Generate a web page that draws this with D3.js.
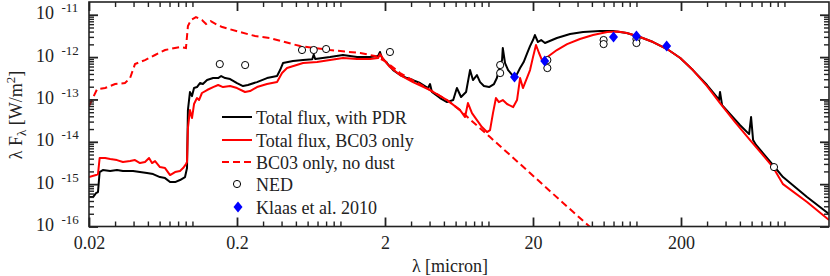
<!DOCTYPE html>
<html>
<head>
<meta charset="utf-8">
<script src="https://cdn.jsdelivr.net/npm/d3@7"></script>
</head>
<body style="margin:0; background:#fff;">
<div id="chart"></div>
<script>
/* wavelength [micron], lambda*F_lambda [W/m^2] */
var pdrTotal = [
  [0.02,4.96e-16],[0.0213,4.96e-16],[0.0223,6.16e-16],[0.0230,6.52e-16],[0.0236,1.93e-15],[0.0248,2.15e-15],
  [0.0278,2.04e-15],[0.0309,2.15e-15],[0.0339,2.04e-15],[0.0397,2.04e-15],[0.0442,1.93e-15],[0.0493,1.83e-15],
  [0.0542,1.73e-15],[0.0603,1.47e-15],[0.0653,1.39e-15],[0.0706,1.12e-15],[0.0763,1.12e-15],[0.0824,1.25e-15],
  [0.0891,1.47e-15],[0.0919,2.4e-15],[0.0932,5.6e-14],[0.0962,1.5e-13],[0.0993,1.2e-13],[0.1025,1.86e-13],
  [0.1073,1.96e-13],[0.1124,2.44e-13],[0.1176,2.31e-13],[0.1255,2.87e-13],[0.1379,3.2e-13],[0.1492,3.2e-13],
  [0.1563,3.57e-13],[0.1665,3.2e-13],[0.1797,3.03e-13],[0.2,2.44e-13],[0.2196,2.07e-13],[0.237,2.19e-13],
  [0.273,2.57e-13],[0.319,3.2e-13],[0.373,3.57e-13],[0.391,4.94e-13],[0.409,7.23e-13],[0.478,8.07e-13],
  [0.559,8.5e-13],[0.645,8.9e-13],[0.66,1.15e-12],[0.675,9.0e-13],[0.85,1.0e-12],[1.04,1.12e-12],
  [1.295,1.0e-12],[1.586,1.0e-12],[1.797,1.06e-12],[1.85,1.32e-12],[1.91,9.5e-13],[2.063,7.23e-13],
  [2.27,4.94e-13],[2.53,3.77e-13],[2.82,3.2e-13],[3.09,2.87e-13],[3.45,2.44e-13],[3.91,1.86e-13],
  [4.03,2.31e-13],[4.15,1.5e-13],[4.71,1.08e-13],[5.25,8.66e-14],[5.78,9.68e-14],[6.12,1.86e-13],
  [6.53,1.14e-13],[7.06,1.5e-13],[7.51,4.94e-13],[7.86,2.87e-13],[8.36,3.77e-13],[8.78,2.57e-13],
  [9.32,2.07e-13],[10.1,1.96e-13],[10.9,2.31e-13],[11.4,3.2e-13],[11.98,6.49e-13],[12.36,8.5e-13],
  [12.5,1.64e-12],[12.95,7.23e-13],[13.58,4.94e-13],[14.7,3.57e-13],[15.6,3.97e-13],[16.36,5.51e-13],
  [17.3,7.64e-13],[18.3,1.25e-12],[19.1,1.82e-12],[20,2.53e-12],[20.6,3.32e-12],[21.6,2.27e-12],
  [22.7,2.53e-12],[24.1,2.15e-12],[29.0,2.82e-12],[35.6,3.5e-12],[43.6,3.9e-12],[56.7,4.12e-12],
  [69.5,4.12e-12],[86.0,3.7e-12],[105.6,2.98e-12],[129.5,2.27e-12],[161,1.55e-12],[197.7,9.5e-13],
  [240.6,4.94e-13],[299.8,2.19e-13],[350,1.14e-13],[361,9.68e-14],[367,1.5e-13],[379,7.37e-14],
  [500,2.49e-14],[577,1.52e-14],[595,3.84e-14],[614,1.1e-14],[643,8.4e-15],[836,2.83e-15],
  [978,1.47e-15],[1421,4.96e-16],[2000,1.97e-16]
];

var bc03Total = [
  [0.02,1.47e-15],[0.0223,1.64e-15],[0.0230,1.73e-15],[0.0236,4.13e-15],[0.0257,4.13e-15],[0.0278,3.92e-15],
  [0.0309,3.7e-15],[0.0339,3.33e-15],[0.0379,3.51e-15],[0.0409,3.7e-15],[0.0442,3.15e-15],[0.0478,3.33e-15],
  [0.0509,4.13e-15],[0.0533,3.15e-15],[0.0559,3.51e-15],[0.0603,2.53e-15],[0.0653,2.4e-15],[0.0706,1.64e-15],
  [0.0763,1.93e-15],[0.0824,2.04e-15],[0.0865,2.4e-15],[0.0904,2.98e-15],[0.0919,3.33e-15],[0.0932,2.11e-14],
  [0.0962,5.6e-14],[0.0993,3.64e-14],[0.1025,7.8e-14],[0.1073,1.08e-13],[0.1108,9.68e-14],[0.1159,1.42e-13],
  [0.1255,1.67e-13],[0.1379,1.96e-13],[0.1492,2.19e-13],[0.161,1.96e-13],[0.1797,2.07e-13],[0.2,1.86e-13],
  [0.2266,1.5e-13],[0.245,1.58e-13],[0.273,1.96e-13],[0.319,2.31e-13],[0.373,2.57e-13],[0.403,4.2e-13],
  [0.4355,5.51e-13],[0.559,7.23e-13],[0.695,7.64e-13],[0.85,8.5e-13],[1.04,9.5e-13],[1.295,9.0e-13],
  [1.586,9.0e-13],[1.797,9.5e-13],[1.85,1.18e-12],[1.97,8.5e-13],[2.16,5.82e-13],[2.53,3.77e-13],
  [3.09,2.57e-13],[4.03,1.67e-13],[5.25,9.68e-14],[6.43,5.6e-14],[6.95,3.84e-14],[7.27,8.23e-14],
  [7.74,4.76e-14],[8.36,3.26e-14],[9.04,2.23e-14],[9.78,1.7e-14],[10.25,1.89e-14],[10.73,4.76e-14],
  [11.24,1.08e-13],[11.76,8.66e-14],[12.5,9.68e-14],[13.35,7.8e-14],[14.7,6.6e-14],[15.6,9.68e-14],
  [16.36,3.2e-13],[17.1,1.86e-13],[18.3,3.38e-13],[19.1,4.94e-13],[20,1.0e-12],[20.95,1.93e-12],
  [21.96,1.25e-12],[23.0,8.5e-13],[24.5,9.5e-13],[29.0,1.47e-12],[34.0,2.03e-12],[41.5,2.67e-12],
  [50.9,3.32e-12],[63.5,3.9e-12],[74.6,4.0e-12],[86.0,3.7e-12],[105.6,2.98e-12],[129.5,2.27e-12],
  [161,1.55e-12],[197.7,9.5e-13],[240.6,4.94e-13],[299.8,2.07e-13],[367,8.23e-14],[464,2.93e-14],
  [586,1.1e-14],[706,5.13e-15],[836,2.53e-15],[978,1.0e-15],[1421,3.78e-16],[2000,1.42e-16]
];

var bc03NoDust = [
  [0.02,7.0e-14],[0.0227,1.76e-13],[0.0257,1.86e-13],[0.030,2.31e-13],[0.035,2.44e-13],[0.0379,3.2e-13],
  [0.0409,6.85e-13],[0.0478,8.5e-13],[0.0559,1.12e-12],[0.0653,1.47e-12],[0.0824,1.73e-12],[0.0904,1.64e-12],
  [0.0932,5.4e-12],[0.0978,7.5e-12],[0.1056,8.8e-12],[0.116,7.5e-12],[0.1236,6.03e-12],[0.133,7.1e-12],
  [0.144,6.03e-12],[0.159,5.12e-12],[0.21,3.9e-12],[0.265,3.14e-12],[0.334,2.82e-12],[0.533,1.82e-12],
  [0.85,1.47e-12],[1.36,1.25e-12],[1.71,1.06e-12],[2.0,8.07e-13],[2.53,4.2e-13],[4.03,1.67e-13],
  [5.25,9.68e-14],[6.43,5.6e-14],[7.86,2.93e-14],[10.25,1.29e-14],[14.0,4.87e-15],[19.1,1.83e-15],
  [30.4,4.2e-16],[48.6,9.7e-17],[56.7,5.95e-17]
];

var nedPoints = [
  [0.153,6.85e-13],[0.227,6.49e-13],[0.55,1.47e-12],[0.66,1.47e-12],[0.80,1.55e-12],[2.16,1.32e-12],
  [12,6.49e-13],[12,4.2e-13],[25,8.5e-13],[25,5.51e-13],[60,2.53e-12],[60,2.03e-12],
  [100,2.67e-12],[100,2.15e-12],[850,2.53e-15]
];

var klaasPoints = [
  [15,3.38e-13],[24,8.07e-13],[70,2.98e-12],[100,3.14e-12],[160,1.82e-12]
];

var xTickValues = [0.02, 0.2, 2, 20, 200];
var xTickLabels = ["0.02", "0.2", "2", "20", "200"];
var yTickExponents = [-16, -15, -14, -13, -12, -11];
var legendLabels = ["Total flux, with PDR", "Total flux, BC03 only", "BC03 only, no dust", "NED", "Klaas et al. 2010"];

var width = 830;
var height = 276;
var margin = {top: 2, right: 1, bottom: 49.5, left: 89};
var w = width - margin.left - margin.right;
var h = height - margin.top - margin.bottom;
var fontSize = 18;
var supSize = 13;
var serif = "Liberation Serif";

var x = d3.scaleLog().domain([0.02, 2000]).range([0, w]);
var y = d3.scaleLog().domain([1e-16, 2e-11]).range([h, 0]);

/* minor ticks at k*10^n */
var xMinor = [], yMinor = [];
for (var n = -2; n <= 3; n++) {
  for (var k = 1; k <= 9; k++) {
    var v = k * Math.pow(10, n);
    if (v > 0.02 && v < 2000 && xTickValues.indexOf(+v.toPrecision(3)) < 0) xMinor.push(v);
  }
}
for (var n = -16; n <= -11; n++) {
  for (var k = 2; k <= 9; k++) {
    var v = k * Math.pow(10, n);
    if (v < 2e-11) yMinor.push(v);
  }
}
var yMajor = yTickExponents.map(e => Math.pow(10, e));

var svg = d3.select("#chart").append("svg")
  .attr("width", width)
  .attr("height", height)
  .style("display", "block");

var g = svg.append("g")
  .attr("transform", `translate(${margin.left}, ${margin.top})`);

g.append("clipPath").attr("id", "clip")
  .append("rect").attr("width", w).attr("height", h);

/* curves */
var line = d3.line()
  .x(d => x(d[0]))
  .y(d => y(d[1]));

var curves = g.append("g").attr("clip-path", "url(#clip)");

curves.append("path")
  .datum(pdrTotal)
  .attr("d", line)
  .attr("fill", "none")
  .attr("stroke", "#000")
  .attr("stroke-width", 2)
  .attr("stroke-linejoin", "round");

curves.append("path")
  .datum(bc03Total)
  .attr("d", line)
  .attr("fill", "none")
  .attr("stroke", "#ff0000")
  .attr("stroke-width", 2)
  .attr("stroke-linejoin", "round");

curves.append("path")
  .datum(bc03NoDust)
  .attr("d", line)
  .attr("fill", "none")
  .attr("stroke", "#ff0000")
  .attr("stroke-width", 2)
  .attr("stroke-dasharray", "7,4");

/* markers */
var diamond = "M0,-5.5L4.5,0L0,5.5L-4.5,0Z";

g.append("g").selectAll("circle")
  .data(nedPoints).enter()
  .append("circle")
  .attr("cx", d => x(d[0]))
  .attr("cy", d => y(d[1]))
  .attr("r", 3.6)
  .attr("fill", "#fff")
  .attr("stroke", "#000")
  .attr("stroke-width", 1);

g.append("g").selectAll("path")
  .data(klaasPoints).enter()
  .append("path")
  .attr("d", diamond)
  .attr("transform", d => `translate(${x(d[0])}, ${y(d[1])})`)
  .attr("fill", "#0000ff");

/* axes, ticks on all four sides pointing in */
function styleAxis(sel, sw) {
  sel.attr("font-family", serif).attr("font-size", fontSize);
  sel.select(".domain").remove();
  sel.selectAll(".tick line").attr("stroke", "#222").attr("stroke-width", sw);
}

g.append("g").attr("transform", `translate(0, ${h})`)
  .call(d3.axisBottom(x).tickValues(xMinor).tickSize(-5).tickFormat(""))
  .call(styleAxis, 1.4);
g.append("g").attr("transform", `translate(0, ${h})`)
  .call(d3.axisBottom(x).tickValues(xTickValues).tickSize(-9).tickPadding(10)
    .tickFormat((d, i) => xTickLabels[i]))
  .call(styleAxis, 1.8)
  .selectAll("text")
  .attr("font-family", serif)
  .attr("font-size", fontSize)
  .attr("fill", "#222");

g.append("g")
  .call(d3.axisTop(x).tickValues(xMinor).tickSize(-5).tickFormat(""))
  .call(styleAxis, 1.4);
g.append("g")
  .call(d3.axisTop(x).tickValues(xTickValues).tickSize(-9).tickFormat(""))
  .call(styleAxis, 1.8);

g.append("g")
  .call(d3.axisLeft(y).tickValues(yMinor).tickSize(-5).tickFormat(""))
  .call(styleAxis, 1.4);
g.append("g")
  .call(d3.axisLeft(y).tickValues(yMajor).tickSize(-9).tickFormat(""))
  .call(styleAxis, 1.8);

g.append("g").attr("transform", `translate(${w}, 0)`)
  .call(d3.axisRight(y).tickValues(yMinor).tickSize(-5).tickFormat(""))
  .call(styleAxis, 1.4);
g.append("g").attr("transform", `translate(${w}, 0)`)
  .call(d3.axisRight(y).tickValues(yMajor).tickSize(-9).tickFormat(""))
  .call(styleAxis, 1.8);

/* y tick labels 10^n */
var yLab = g.append("g").attr("fill", "#222").attr("font-family", serif);
yLab.selectAll(".base")
  .data(yTickExponents).enter()
  .append("text")
  .attr("x", -35)
  .attr("y", d => y(Math.pow(10, d)) + 4.5)
  .attr("text-anchor", "end")
  .attr("font-family", serif)
  .attr("font-size", fontSize)
  .text("10");
yLab.selectAll(".exp")
  .data(yTickExponents).enter()
  .append("text")
  .attr("x", -27.5)
  .attr("y", d => y(Math.pow(10, d)) - 2.5)
  .attr("font-family", serif)
  .attr("font-size", supSize)
  .text(d => "" + d);

g.append("rect")
  .attr("width", w)
  .attr("height", h)
  .attr("fill", "none")
  .attr("stroke", "#222")
  .attr("stroke-width", 1.6);

/* axis labels */
svg.append("text")
  .attr("x", 450)
  .attr("y", 272)
  .attr("text-anchor", "middle")
  .attr("font-family", serif)
  .attr("font-size", fontSize)
  .attr("fill", "#222")
  .text("λ [micron]");

var yl = svg.append("text")
  .attr("transform", "translate(22, 115) rotate(-90)")
  .attr("text-anchor", "middle")
  .attr("font-family", serif)
  .attr("font-size", fontSize)
  .attr("fill", "#222");
yl.append("tspan").text("λ F");
yl.append("tspan").attr("dy", 4).attr("font-size", supSize).text("λ");
yl.append("tspan").attr("dy", -4).text(" [W/m");
yl.append("tspan").attr("dy", -7).attr("font-size", supSize).text("2");
yl.append("tspan").attr("dy", 7).text("]");

/* legend */
var legend = svg.append("g").attr("font-family", serif);
var rowY = [117, 140, 162, 184, 207];
legend.append("line").attr("x1", 222).attr("x2", 252).attr("y1", rowY[0]).attr("y2", rowY[0])
  .attr("stroke", "#000").attr("stroke-width", 2);
legend.append("line").attr("x1", 222).attr("x2", 252).attr("y1", rowY[1]).attr("y2", rowY[1])
  .attr("stroke", "#ff0000").attr("stroke-width", 2);
legend.append("line").attr("x1", 222).attr("x2", 252).attr("y1", rowY[2]).attr("y2", rowY[2])
  .attr("stroke", "#ff0000").attr("stroke-width", 2).attr("stroke-dasharray", "7,4");
legend.append("circle").attr("cx", 237).attr("cy", rowY[3]).attr("r", 3.6)
  .attr("fill", "#fff").attr("stroke", "#000").attr("stroke-width", 1);
legend.append("path").attr("d", diamond).attr("transform", `translate(238, ${rowY[4]})`)
  .attr("fill", "#0000ff");
legend.selectAll("text")
  .data(legendLabels).enter()
  .append("text")
  .attr("x", 256)
  .attr("y", (d, i) => rowY[i] + 6.5)
  .attr("font-family", serif)
  .attr("font-size", fontSize)
  .attr("fill", "#222")
  .text(d => d);
</script>
</body>
</html>
